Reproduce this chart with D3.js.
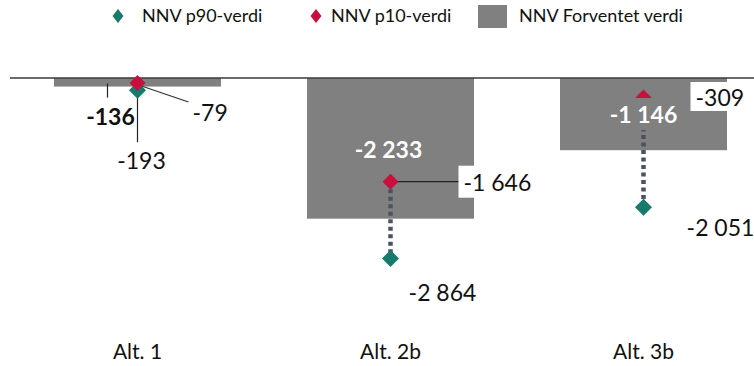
<!DOCTYPE html>
<html><head><meta charset="utf-8">
<script src="https://cdn.jsdelivr.net/npm/d3@7"></script>
<style>body{margin:0;background:#fff}svg{display:block}text{font-family:Lato,"Open Sans",sans-serif}</style>
</head><body><svg id="c" width="754" height="366"></svg>
<script>
const categories = ["Alt. 1", "Alt. 2b", "Alt. 3b"];
const expected = [-136, -2233, -1146];
const p10 = [-79, -1646, -309];
const p90 = [-193, -2864, -2051];
const legendLabels = ["NNV p90-verdi", "NNV p10-verdi", "NNV Forventet verdi"];

const svg = d3.select("#c");
const teal = "#167a6c", red = "#c8103f", gray = "#808080", dot = "#4b5263";
const fmt = v => (v < 0 ? "-" : "") + d3.format(",")(Math.abs(v)).replace(/,/g, " ");

const x = d3.scaleBand().domain(categories).range([11, 770]).paddingInner(0.34).paddingOuter(0.17);
const y = d3.scaleLinear().domain([0, -3000]).range([78, 267]);
const cx = c => x(c) + x.bandwidth() / 2;

// bars
svg.selectAll("rect.bar").data(categories).join("rect")
  .attr("x", c => x(c)).attr("width", x.bandwidth())
  .attr("y", y(0)).attr("height", (c, i) => y(expected[i]) - y(0))
  .attr("fill", gray);

// zero line
svg.append("line").attr("x1", 10).attr("x2", 754).attr("y1", y(0)).attr("y2", y(0))
  .attr("stroke", "#3a3a3a").attr("stroke-width", 1.5);

// dotted range lines (Alt. 2b, Alt. 3b)
[1, 2].forEach(i => {
  svg.append("line").attr("x1", cx(categories[i])).attr("x2", cx(categories[i]))
    .attr("y1", y(p10[i])).attr("y2", y(p90[i]))
    .attr("stroke", dot).attr("stroke-width", 4.5).attr("stroke-dasharray", "4 3.5");
});

// leader lines for Alt. 1
const c0 = cx(categories[0]);
svg.append("line").attr("x1", c0 - 30).attr("x2", c0 - 30).attr("y1", y(expected[0]) - 3).attr("y2", y(expected[0]) + 11).attr("stroke", "#222").attr("stroke-width", 1.2);
svg.append("line").attr("x1", c0).attr("x2", c0).attr("y1", y(p90[0])).attr("y2", y(p90[0]) + 52).attr("stroke", "#222").attr("stroke-width", 1.2);
svg.append("line").attr("x1", c0 + 4).attr("x2", c0 + 51).attr("y1", y(p10[0]) + 3).attr("y2", y(p10[0]) + 19).attr("stroke", "#333").attr("stroke-width", 1.2);
// leader for Alt. 2b p10
const c1 = cx(categories[1]);
svg.append("line").attr("x1", c1).attr("x2", c1 + 70).attr("y1", y(p10[1])).attr("y2", y(p10[1])).attr("stroke", "#222").attr("stroke-width", 1.2);

const diamond = (s) => `M0,${-s}L${s},0L0,${s}L${-s},0Z`;
// p90 diamonds
svg.selectAll("path.p90").data(categories).join("path")
  .attr("d", diamond(8.5)).attr("fill", teal)
  .attr("transform", (c, i) => `translate(${cx(c)},${y(p90[i])})`);
// p10 diamonds
svg.selectAll("path.p10").data(categories).join("path")
  .attr("d", diamond(8)).attr("fill", red)
  .attr("transform", (c, i) => `translate(${cx(c)},${y(p10[i])})`);

// labels
const fs = 23;
function label(t, xx, yy, opts = {}) {
  const g = svg.append("g");
  if (opts.bg) {
    g.append("rect").attr("x", opts.bg[0]).attr("y", opts.bg[1]).attr("width", opts.bg[2]).attr("height", opts.bg[3]).attr("fill", opts.bgc || "#fff");
  }
  g.append("text").attr("x", xx).attr("y", yy).text(t)
    .attr("font-size", fs).attr("text-anchor", opts.anchor || "middle")
    .attr("font-weight", opts.bold ? 700 : 400).attr("fill", opts.color || "#111");
}
const c2 = cx(categories[2]);
// Alt. 1
label(fmt(expected[0]), c0 - 27, 125, {bold: true});
label(fmt(p10[0]), c0 + 55, 121, {anchor: "start"});
label(fmt(p90[0]), c0 + 4, 169);
// Alt. 2b
label(fmt(expected[1]), c1 - 2, 158, {bold: true, color: "#fff"});
label(fmt(p10[1]), c1 + 73, 191, {anchor: "start", bg: [c1 + 68, y(p10[1]) - 16, 72, 32]});
label(fmt(p90[1]), c1 + 52, 301);
// Alt. 3b
label(fmt(expected[2]), c2, 123, {bold: true, color: "#fff", bg: [c2 - 42, y(p10[2]) + 0.5, 84, 32], bgc: gray});
label(fmt(p10[2]), c2 + 52, 106, {anchor: "start", bg: [c2 + 47, 82, 57, 29]});
label(fmt(p90[2]), c2 + 77, 236);

// category labels
svg.selectAll("text.cat").data(categories).join("text")
  .attr("x", c => cx(c)).attr("y", 359).attr("text-anchor", "middle")
  .attr("font-size", 21).attr("fill", "#111").text(c => c);

// legend
const lg = svg.append("g");
lg.append("path").attr("d", "M0,-7L5.5,0L0,7L-5.5,0Z").attr("fill", teal).attr("transform", "translate(118,16)");
lg.append("text").attr("x", 142).attr("y", 22).attr("font-size", 18).attr("fill", "#111").text(legendLabels[0]);
lg.append("path").attr("d", "M0,-7L5.5,0L0,7L-5.5,0Z").attr("fill", red).attr("transform", "translate(316,16)");
lg.append("text").attr("x", 331).attr("y", 22).attr("font-size", 18).attr("fill", "#111").text(legendLabels[1]);
lg.append("rect").attr("x", 478).attr("y", 5).attr("width", 29).attr("height", 23).attr("fill", gray);
lg.append("text").attr("x", 519).attr("y", 22).attr("font-size", 18).attr("fill", "#111").text(legendLabels[2]);
</script></body></html>
